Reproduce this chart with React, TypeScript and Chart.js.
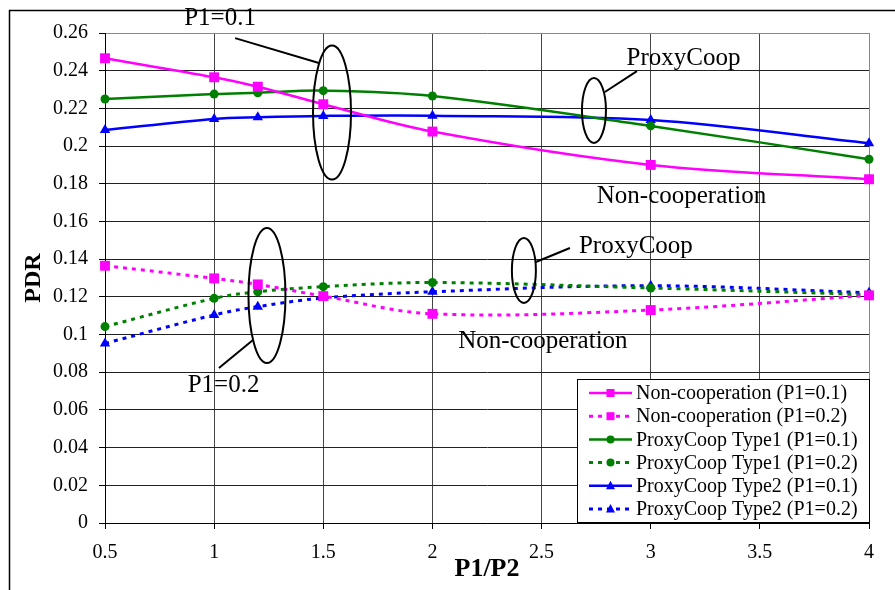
import React, { useEffect, useRef } from "react";
import { Chart, registerables } from "chart.js";

Chart.register(...registerables);

// ---- data ----
const xValues = [0.5, 1, 1.2, 1.5, 2, 3, 4];
const nonCoopP1 = [0.2466, 0.2365, 0.2315, 0.2222, 0.2077, 0.19, 0.1824];
const nonCoopP2 = [0.1365, 0.1298, 0.1266, 0.1204, 0.111, 0.113, 0.1208];
const type1P1 = [0.225, 0.2276, 0.2283, 0.2294, 0.2266, 0.2107, 0.193];
const type1P2 = [0.1042, 0.1192, 0.1227, 0.1254, 0.1276, 0.1247, 0.1212];
const type2P1 = [0.2085, 0.2144, 0.2153, 0.216, 0.2161, 0.2138, 0.2015];
const type2P2 = [0.0953, 0.1104, 0.1148, 0.1194, 0.1227, 0.1259, 0.1222];
const seriesLabels = [
  "Non-cooperation (P1=0.1)",
  "Non-cooperation (P1=0.2)",
  "ProxyCoop Type1 (P1=0.1)",
  "ProxyCoop Type1 (P1=0.2)",
  "ProxyCoop Type2 (P1=0.1)",
  "ProxyCoop Type2 (P1=0.2)",
];
const xTicks = [0.5, 1, 1.5, 2, 2.5, 3, 3.5, 4];
const yTicks = [0, 0.02, 0.04, 0.06, 0.08, 0.1, 0.12, 0.14, 0.16, 0.18, 0.2, 0.22, 0.24, 0.26];
const xTitle = "P1/P2";
const yTitle = "PDR";

// annotation texts
const annoTexts = ["P1=0.1", "ProxyCoop", "Non-cooperation", "ProxyCoop", "Non-cooperation", "P1=0.2"];

const SERIF = "'Liberation Serif', 'Times New Roman', serif";
const MAGENTA = "#ff00ff";
const GREEN = "#008000";
const BLUE = "#0000ff";

const toPts = (vals: number[]) => vals.map((v, i) => ({ x: xValues[i], y: v }));

function makeDataset(label: string, vals: number[], color: string, dashed: boolean, style: string, radius: number) {
  return {
    label,
    data: toPts(vals),
    borderColor: color,
    backgroundColor: color,
    borderWidth: dashed ? 3 : 2.5,
    borderDash: dashed ? [4, 5] : [],
    pointStyle: style,
    pointRadius: radius,
    pointHoverRadius: radius,
    pointBorderWidth: 0,
    pointBackgroundColor: color,
    tension: 0.35,
    fill: false,
    clip: false,
    _dashed: dashed,
  } as any;
}

const overlayPlugin = {
  id: "overlay",
  afterDraw(chart: any) {
    const { ctx, chartArea, scales } = chart;
    const xs = scales.x;
    const ys = scales.y;
    const px = (v: number) => xs.getPixelForValue(v);
    const py = (v: number) => ys.getPixelForValue(v);
    ctx.save();

    // outer frame (left & top)
    ctx.strokeStyle = "#000";
    ctx.lineWidth = 1.5;
    ctx.beginPath();
    ctx.moveTo(9.5, chart.height);
    ctx.lineTo(9.5, 10.5);
    ctx.lineTo(chart.width, 10.5);
    ctx.stroke();

    // ellipses + leader lines
    ctx.strokeStyle = "#000";
    ctx.lineWidth = 2;
    const ellipses = [
      { cx: 1.54, cy: 0.2178, rx: 19, ry: 67 },
      { cx: 2.74, cy: 0.2189, rx: 12, ry: 32.5 },
      { cx: 2.419, cy: 0.134, rx: 12, ry: 32.5 },
      { cx: 1.242, cy: 0.1207, rx: 18.5, ry: 67.5 },
    ];
    ellipses.forEach((e) => {
      ctx.beginPath();
      ctx.ellipse(px(e.cx), py(e.cy), e.rx, e.ry, 0, 0, Math.PI * 2);
      ctx.stroke();
    });
    const leaders = [
      [1.096, 0.2573, 1.48, 0.2441],
      [2.79, 0.2287, 2.937, 0.2398],
      [2.474, 0.1385, 2.63, 0.1459],
      [1.022, 0.0822, 1.178, 0.0971],
    ];
    leaders.forEach((l) => {
      ctx.beginPath();
      ctx.moveTo(px(l[0]), py(l[1]));
      ctx.lineTo(px(l[2]), py(l[3]));
      ctx.stroke();
    });

    // annotation texts
    ctx.fillStyle = "#000";
    ctx.font = `25px ${SERIF}`;
    ctx.textAlign = "center";
    ctx.textBaseline = "alphabetic";
    const textPos = [
      [1.027, 0.2642],
      [3.15, 0.243],
      [3.141, 0.17],
      [2.932, 0.1433],
      [2.506, 0.0929],
      [1.043, 0.0695],
    ];
    annoTexts.forEach((t, i) => {
      ctx.fillText(t, px(textPos[i][0]), py(textPos[i][1]));
    });

    // legend box
    const right = chartArea.right;
    const bottom = chartArea.bottom - 1;
    const boxW = 292;
    const boxH = 143;
    const bx = right - boxW;
    const by = bottom - boxH;
    ctx.fillStyle = "#fff";
    ctx.fillRect(bx, by, boxW, boxH);
    ctx.strokeStyle = "#000";
    ctx.lineWidth = 1;
    ctx.strokeRect(bx + 0.5, by + 0.5, boxW, boxH);

    ctx.font = `20px ${SERIF}`;
    ctx.textAlign = "left";
    ctx.textBaseline = "middle";
    chart.data.datasets.forEach((ds: any, i: number) => {
      const yy = by + 14 + i * 23.2;
      const x0 = bx + 12;
      const x1 = bx + 55;
      ctx.strokeStyle = ds.borderColor;
      ctx.lineWidth = ds._dashed ? 3 : 2.5;
      ctx.setLineDash(ds._dashed ? [4, 5] : []);
      ctx.beginPath();
      ctx.moveTo(x0, yy);
      ctx.lineTo(x1, yy);
      ctx.stroke();
      ctx.setLineDash([]);
      const mx = (x0 + x1) / 2;
      ctx.fillStyle = ds.borderColor;
      ctx.beginPath();
      if (ds.pointStyle === "rect") {
        ctx.rect(mx - 4, yy - 4, 8, 8);
      } else if (ds.pointStyle === "circle") {
        ctx.arc(mx, yy, 4, 0, Math.PI * 2);
      } else {
        ctx.moveTo(mx, yy - 5);
        ctx.lineTo(mx + 4.5, yy + 3.5);
        ctx.lineTo(mx - 4.5, yy + 3.5);
        ctx.closePath();
      }
      ctx.fill();
      ctx.fillStyle = "#000";
      ctx.fillText(ds.label, bx + 59, yy + 1);
    });

    ctx.restore();
  },
};

export default function App() {
  const ref = useRef<HTMLCanvasElement | null>(null);

  useEffect(() => {
    document.body.style.margin = "0";
    const canvas = ref.current;
    if (!canvas) return;
    const chart = new Chart(canvas, {
      type: "line",
      data: {
        datasets: [
          makeDataset(seriesLabels[0], nonCoopP1, MAGENTA, false, "rect", 7),
          makeDataset(seriesLabels[1], nonCoopP2, MAGENTA, true, "rect", 7),
          makeDataset(seriesLabels[2], type1P1, GREEN, false, "circle", 4.5),
          makeDataset(seriesLabels[3], type1P2, GREEN, true, "circle", 4.5),
          makeDataset(seriesLabels[4], type2P1, BLUE, false, "triangle", 6),
          makeDataset(seriesLabels[5], type2P2, BLUE, true, "triangle", 6),
        ],
      },
      options: {
        responsive: false,
        animation: false,
        events: [],
        layout: { padding: { left: 10, top: 33, right: 26, bottom: 0 } },
        plugins: {
          legend: { display: false },
          tooltip: { enabled: false },
          title: { display: false },
        },
        scales: {
          x: {
            type: "linear",
            min: 0.5,
            max: 4,
            afterBuildTicks: (s: any) => {
              s.ticks = xTicks.map((v) => ({ value: v }));
            },
            afterFit: (s: any) => {
              s.height = 67;
            },
            ticks: {
              color: "#000",
              font: { family: SERIF, size: 20 },
              padding: 12,
              maxRotation: 0,
              autoSkip: false,
              callback: (v: any) => String(+Number(v).toFixed(2)),
            },
            grid: {
              color: (c: any) => (c.tick && c.tick.value === 4 ? "#888" : "#444"),
              lineWidth: 1,
              tickLength: 6,
              tickColor: "#000",
            },
            border: { color: "#000", width: 1 },
            title: {
              display: true,
              text: xTitle,
              color: "#000",
              font: { family: SERIF, size: 26, weight: "bold" },
              padding: { top: 0, bottom: 5 },
            },
          },
          y: {
            type: "linear",
            min: 0,
            max: 0.26,
            afterBuildTicks: (s: any) => {
              s.ticks = yTicks.map((v) => ({ value: v }));
            },
            afterFit: (s: any) => {
              s.width = 95;
            },
            ticks: {
              color: "#000",
              font: { family: SERIF, size: 20 },
              padding: 11,
              autoSkip: false,
              callback: (v: any) => String(+Number(v).toFixed(2)),
            },
            grid: {
              color: (c: any) => (c.tick && c.tick.value === 0.26 ? "#888" : "#222"),
              lineWidth: 1,
              tickLength: 6,
              tickColor: "#000",
            },
            border: { color: "#000", width: 1 },
            title: {
              display: true,
              text: yTitle,
              color: "#000",
              font: { family: SERIF, size: 24, weight: "bold" },
              padding: { top: 9, bottom: 0 },
            },
          },
        },
      },
      plugins: [overlayPlugin],
    } as any);
    return () => chart.destroy();
  }, []);

  return (
    <div style={{ position: "fixed", left: 0, top: 0, width: 895, height: 590, background: "#fff" }}>
      <canvas ref={ref} width={895} height={590} style={{ display: "block", width: 895, height: 590 }} />
    </div>
  );
}
